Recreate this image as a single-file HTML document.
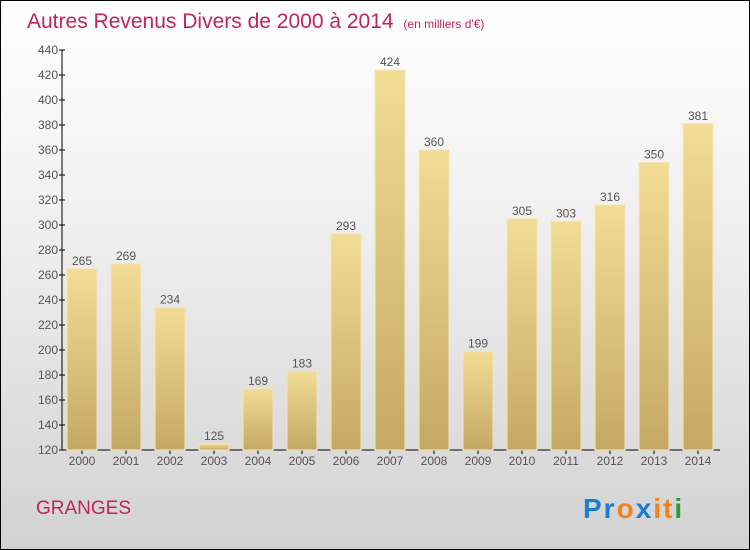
<!DOCTYPE html>
<html><head><meta charset="utf-8"><style>
body{margin:0}
#c{width:750px;height:550px;position:relative;box-sizing:border-box;border:1px solid #000;background:linear-gradient(#ffffff 0%,#f0f0f0 40%,#d2d2d2 100%);font-family:"Liberation Sans",sans-serif;overflow:hidden}
</style></head><body>
<div id="c">
<svg id="s" width="750" height="550" style="position:absolute;left:-1px;top:-1px">
<defs><linearGradient id="g" x1="0" y1="0" x2="0" y2="1"><stop offset="0" stop-color="#f3dc95"/><stop offset="1" stop-color="#c4a965"/></linearGradient></defs>
<text x="27" y="28" font-size="21" fill="#c0245c">Autres Revenus Divers de 2000 à 2014 <tspan font-size="12" dx="4">(en milliers d'€)</tspan></text>
<text x="36" y="514" font-size="19" fill="#c0245c">GRANGES</text>
<g font-size="28" font-weight="bold" font-family="'Liberation Sans',sans-serif" letter-spacing="2">
<text x="583" y="518"><tspan fill="#1b7ed0">Pr</tspan><tspan fill="#f58220">o</tspan><tspan fill="#1b7ed0">x</tspan><tspan fill="#f58220">i</tspan><tspan fill="#f58220">t</tspan><tspan fill="#2a9a3a">i</tspan></text>
</g>
<g id="ax"></g><g id="bars"></g>
</svg></div>
<script>
const years=["2000","2001","2002","2003","2004","2005","2006","2007","2008","2009","2010","2011","2012","2013","2014"];
const values=[265,269,234,125,169,183,293,424,360,199,305,303,316,350,381];
const ticks=[120,140,160,180,200,220,240,260,280,300,320,340,360,380,400,420,440];
const NS="http://www.w3.org/2000/svg";
const y0=450,y1=50,vmin=120,vmax=440,xl=62,xr=720;
const y=v=>y0-(v-vmin)/(vmax-vmin)*(y0-y1);
const step=44,x=i=>82+i*step;
function mk(t,a,p){const e=document.createElementNS(NS,t);for(const k in a)e.setAttribute(k,a[k]);p.appendChild(e);return e;}
const ax=document.getElementById('ax'),bars=document.getElementById('bars');
let l=mk('line',{x1:xl,y1:y1,x2:xl,y2:y0,stroke:'#000'},ax);


l=mk('line',{x1:xl,y1:y0,x2:xr,y2:y0,stroke:'#000'},ax);


ticks.forEach(t=>{
 mk('line',{x1:xl-3,y1:y(t),x2:xl+3,y2:y(t),stroke:'#000'},ax);
 const tx=mk('text',{x:xl-4,y:y(t)+4,'font-size':12,'text-anchor':'end',fill:'#555'},ax);tx.textContent=t;
 
 
});
years.forEach((yr,i)=>{
 const v=values[i];
 const r=mk('rect',{x:x(i)-15,y:y(v),width:30,height:y0-y(v),fill:'url(#g)',stroke:'#f5e6b8','stroke-width':1},bars);
 
 
 const lb=mk('text',{x:x(i),y:y(v)-4,'font-size':12,'text-anchor':'middle',fill:'#555'},bars);lb.textContent=v;
 
 
 mk('line',{x1:x(i),y1:y0,x2:x(i),y2:y0+4,stroke:'#000'},ax);
 const xt=mk('text',{x:x(i),y:y0+15,'font-size':12,'text-anchor':'middle',fill:'#555'},ax);xt.textContent=yr;
 
 
});
</script>
</body></html>
